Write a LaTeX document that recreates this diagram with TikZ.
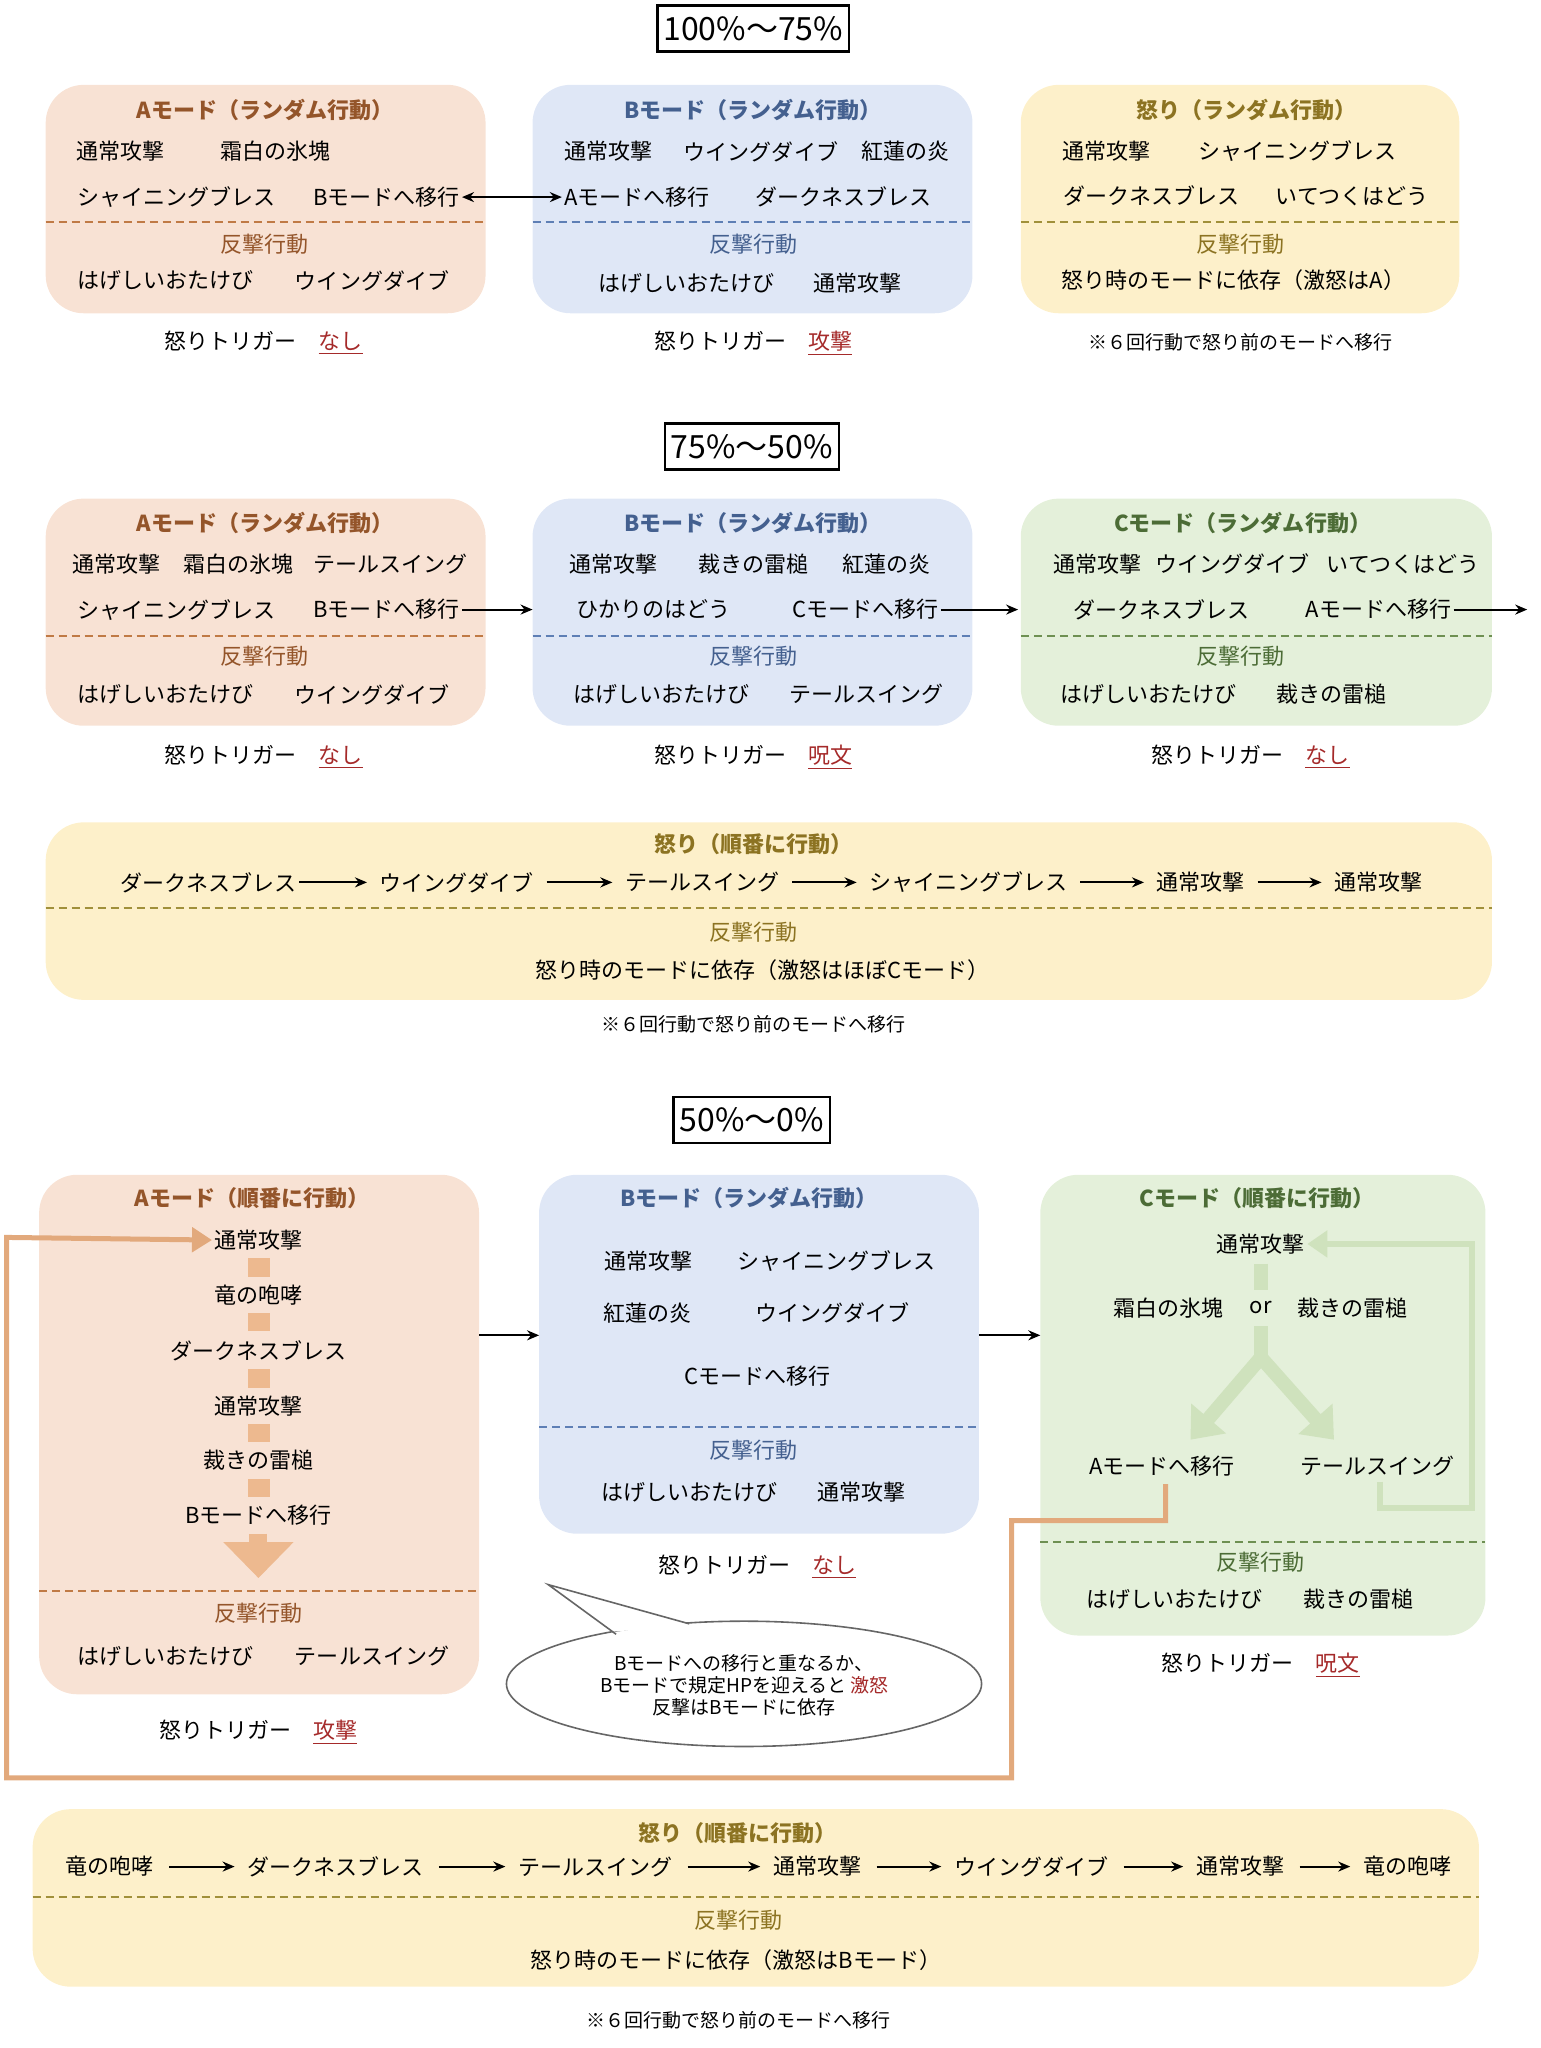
\documentclass[tikz,border=0pt]{standalone}
\usepackage{fontspec}
\setmainfont{Noto Sans CJK JP}
\usetikzlibrary{arrows.meta,shapes.geometric,calc}
\definecolor{afill}{HTML}{F8E2D4}\definecolor{atitle}{HTML}{94552A}\definecolor{adash}{HTML}{C07A45}
\definecolor{bfill}{HTML}{DFE7F6}\definecolor{btitle}{HTML}{44608F}\definecolor{bdash}{HTML}{5E7FB5}
\definecolor{yfill}{HTML}{FDF0CA}\definecolor{ytitle}{HTML}{8C7322}\definecolor{ydash}{HTML}{A0903A}
\definecolor{gfill}{HTML}{E4F0DA}\definecolor{gtitle}{HTML}{4C6C36}\definecolor{gdash}{HTML}{6E9052}
\definecolor{trig}{HTML}{A52A2A}\definecolor{gline}{HTML}{CFE2BD}\definecolor{oline}{HTML}{E2A97C}
\definecolor{osq}{HTML}{EDB98F}
\newcommand\rt[1]{\textcolor{trig}{\underline{#1}}}
\begin{document}
\begin{tikzpicture}[x=0.6525pt,y=-0.6525pt,
  t/.style={font=\fontsize{11}{13}\selectfont,inner sep=1pt},
  hd/.style={font=\fontsize{11}{13}\selectfont\bfseries,inner sep=1pt},
  ttl/.style={draw,line width=1.3pt,font=\fontsize{16}{18}\selectfont,inner sep=3pt,minimum height=23pt},
  sm/.style={font=\fontsize{9.5}{11}\selectfont,inner sep=1pt},
  bx/.style={rounded corners=19pt},
  dl/.style={dashed,line width=1pt,dash pattern=on 4pt off 2.5pt},
  ar/.style={-{Stealth[length=6pt,width=5pt]},line width=1pt},
]
\useasboundingbox (0,0) rectangle (1180,1569);
% ===== section 1
\node[ttl] (h1) at (577,22) {100\%～75\%};
\fill[afill,bx] (35,65) rectangle (372,240);
\draw[adash,dl] (35,170)--(372,170);
\node[hd,text=atitle] (a1t) at (203,84) {Aモード（ランダム行動）};
\node[t] (a1a) at (92,116) {通常攻撃};
\node[t] (a1b) at (211,116) {霜白の氷塊};
\node[t] (a1c) at (135,151) {シャイニングブレス};
\node[t] (a1d) at (296,151) {Bモードへ移行};
\node[t,text=atitle] (a1e) at (203,187) {反撃行動};
\node[t] (a1f) at (127,215) {はげしいおたけび};
\node[t] (a1g) at (285,215) {ウイングダイブ};
\node[t] (a1h) at (202,263) {怒りトリガー\quad\rt{なし}};
\fill[bfill,bx] (408,65) rectangle (745,240);
\draw[bdash,dl] (408,170)--(745,170);
\node[hd,text=btitle] (b1t) at (577,84) {Bモード（ランダム行動）};
\node[t] (b1a) at (466,116) {通常攻撃};
\node[t] (b1b) at (583,116) {ウイングダイブ};
\node[t] (b1c) at (694,116) {紅蓮の炎};
\node[t] (b1d) at (488,151) {Aモードへ移行};
\node[t] (b1e) at (646,151) {ダークネスブレス};
\node[t,text=btitle] (b1f) at (577,187) {反撃行動};
\node[t] (b1g) at (526,217) {はげしいおたけび};
\node[t] (b1h) at (657,217) {通常攻撃};
\node[t] (b1i) at (577,263) {怒りトリガー\quad\rt{攻撃}};
\draw[{Stealth[length=6pt,width=5pt]}-{Stealth[length=6pt,width=5pt]},line width=1pt] (a1d.east)--(b1d.west);
\fill[yfill,bx] (782,65) rectangle (1118,240);
\draw[ydash,dl] (782,170)--(1118,170);
\node[hd,text=ytitle] (y1t) at (955,84) {怒り（ランダム行動）};
\node[t] (y1a) at (848,116) {通常攻撃};
\node[t] (y1b) at (994,116) {シャイニングブレス};
\node[t] (y1c) at (882,150) {ダークネスブレス};
\node[t] (y1d) at (1036,150) {いてつくはどう};
\node[t,text=ytitle] (y1e) at (950,187) {反撃行動};
\node[t] (y1f) at (945,215) {怒り時のモードに依存（激怒はA）};
\node[sm] (y1g) at (950,262) {※６回行動で怒り前のモードへ移行};
% ===== section 2
\node[ttl] (h2) at (576,342) {75\%～50\%};
\fill[afill,bx] (35,382) rectangle (372,556);
\draw[adash,dl] (35,487)--(372,487);
\node[hd,text=atitle] (a2t) at (203,401) {Aモード（ランダム行動）};
\node[t] (a2a) at (89,432) {通常攻撃};
\node[t] (a2b) at (183,432) {霜白の氷塊};
\node[t] (a2c) at (299,432) {テールスイング};
\node[t] (a2d) at (135,467) {シャイニングブレス};
\node[t] (a2e) at (296,467) {Bモードへ移行};
\node[t,text=atitle] (a2f) at (203,503) {反撃行動};
\node[t] (a2g) at (127,532) {はげしいおたけび};
\node[t] (a2h) at (285,532) {ウイングダイブ};
\node[t] (a2i) at (202,580) {怒りトリガー\quad\rt{なし}};
\fill[bfill,bx] (408,382) rectangle (745,556);
\draw[bdash,dl] (408,487)--(745,487);
\node[hd,text=btitle] (b2t) at (577,401) {Bモード（ランダム行動）};
\node[t] (b2a) at (470,432) {通常攻撃};
\node[t] (b2b) at (577,432) {裁きの雷槌};
\node[t] (b2c) at (679,432) {紅蓮の炎};
\node[t] (b2d) at (501,467) {ひかりのはどう};
\node[t] (b2e) at (663,467) {Cモードへ移行};
\node[t,text=btitle] (b2f) at (577,503) {反撃行動};
\node[t] (b2g) at (507,532) {はげしいおたけび};
\node[t] (b2h) at (664,532) {テールスイング};
\node[t] (b2i) at (577,580) {怒りトリガー\quad\rt{呪文}};
\fill[gfill,bx] (782,382) rectangle (1143,556);
\draw[gdash,dl] (782,487)--(1143,487);
\node[hd,text=gtitle] (c2t) at (952,401) {Cモード（ランダム行動）};
\node[t] (c2a) at (841,432) {通常攻撃};
\node[t] (c2b) at (944,432) {ウイングダイブ};
\node[t] (c2c) at (1075,432) {いてつくはどう};
\node[t] (c2d) at (890,467) {ダークネスブレス};
\node[t] (c2e) at (1056,467) {Aモードへ移行};
\node[t,text=gtitle] (c2f) at (950,503) {反撃行動};
\node[t] (c2g) at (880,532) {はげしいおたけび};
\node[t] (c2h) at (1020,532) {裁きの雷槌};
\node[t] (c2i) at (958,580) {怒りトリガー\quad\rt{なし}};
\coordinate (c2out) at (1170,467);
\draw[ar] (a2e.east)--(408,467);
\draw[ar] (b2e.east)--(780,467);
\draw[ar] (c2e.east)--(c2out);
\fill[yfill,bx] (35,630) rectangle (1143,766);
\draw[ydash,dl] (35,696)--(1143,696);
\node[hd,text=ytitle] (y2t) at (577,647) {怒り（順番に行動）};
\node[t] (r1) at (160,676) {ダークネスブレス};
\node[t] (r2) at (350,676) {ウイングダイブ};
\node[t] (r3) at (538,676) {テールスイング};
\node[t] (r4) at (742,676) {シャイニングブレス};
\node[t] (r5) at (920,676) {通常攻撃};
\node[t] (r6) at (1056,676) {通常攻撃};
\draw[ar] (r1.east)--($(r2.west)+(-8,0)$);
\draw[ar] ($(r2.east)+(8,0)$)--($(r3.west)+(-8,0)$);
\draw[ar] ($(r3.east)+(8,0)$)--($(r4.west)+(-8,0)$);
\draw[ar] ($(r4.east)+(8,0)$)--($(r5.west)+(-8,0)$);
\draw[ar] ($(r5.east)+(8,0)$)--($(r6.west)+(-8,0)$);
\node[t,text=ytitle] (y2e) at (577,714) {反撃行動};
\node[t] (y2f) at (584,743) {怒り時のモードに依存（激怒はほぼCモード）};
\node[sm] (y2g) at (577,785) {※６回行動で怒り前のモードへ移行};
% ===== section 3
\node[ttl] (h3) at (576,858) {50\%～0\%};
\fill[afill,bx] (30,900) rectangle (367,1298);
\draw[adash,dl] (30,1219)--(367,1219);
\node[hd,text=atitle] (a3t) at (193,918) {Aモード（順番に行動）};
\node[t] (s1) at (198,950) {通常攻撃};
\node[t] (s2) at (198,992) {竜の咆哮};
\node[t] (s3) at (198,1035) {ダークネスブレス};
\node[t] (s4) at (198,1077) {通常攻撃};
\node[t] (s5) at (198,1119) {裁きの雷槌};
\node[t] (s6) at (198,1161) {Bモードへ移行};
\foreach \yy in {971,1013,1056,1098,1140} \fill[osq] (190,\yy-7) rectangle (207,\yy+7);
\draw[osq,line width=9pt,-{Triangle[length=18pt,width=34pt]}] (198,1175)--(198,1209);
\node[t,text=atitle] (a3e) at (198,1236) {反撃行動};
\node[t] (a3f) at (127,1269) {はげしいおたけび};
\node[t] (a3g) at (285,1269) {テールスイング};
\node[t] (a3h) at (198,1327) {怒りトリガー\quad\rt{攻撃}};
\fill[bfill,bx] (413,900) rectangle (750,1175);
\draw[bdash,dl] (413,1093)--(750,1093);
\node[hd,text=btitle] (b3t) at (574,918) {Bモード（ランダム行動）};
\node[t] (b3a) at (497,966) {通常攻撃};
\node[t] (b3b) at (641,966) {シャイニングブレス};
\node[t] (b3c) at (496,1006) {紅蓮の炎};
\node[t] (b3d) at (638,1006) {ウイングダイブ};
\node[t] (b3e) at (580,1054) {Cモードへ移行};
\node[t,text=btitle] (b3f) at (577,1111) {反撃行動};
\node[t] (b3g) at (528,1143) {はげしいおたけび};
\node[t] (b3h) at (660,1143) {通常攻撃};
\node[t] (b3i) at (580,1200) {怒りトリガー\quad\rt{なし}};
\fill[gfill,bx] (797,900) rectangle (1138,1253);
\draw[gdash,dl] (797,1181)--(1138,1181);
\node[hd,text=gtitle] (c3t) at (963,918) {Cモード（順番に行動）};
\node[t] (c3a) at (966,953) {通常攻撃};
\node[t] (c3b) at (895,1002) {霜白の氷塊};
\node[t] (c3or) at (966,1002) {or};
\node[t] (c3c) at (1036,1002) {裁きの雷槌};
\node[t] (c3d) at (890,1123) {Aモードへ移行};
\node[t] (c3e) at (1055,1123) {テールスイング};
\node[t,text=gtitle] (c3f) at (966,1197) {反撃行動};
\node[t] (c3g) at (900,1225) {はげしいおたけび};
\node[t] (c3h) at (1041,1225) {裁きの雷槌};
\node[t] (c3i) at (966,1276) {怒りトリガー\quad\rt{呪文}};
\coordinate (fork) at (966,1040);
\draw[gline,line width=7pt] (966,968)--(966,988);
\draw[gline,line width=7pt] (966,1016)--(fork);
\draw[gline,line width=7pt,-{Triangle[length=14pt,width=22pt]}] (fork)--(912,1103);
\draw[gline,line width=7pt,-{Triangle[length=14pt,width=22pt]}] (fork)--(1022,1103);
\draw[gline,line width=3pt,-{Triangle[length=10pt,width=13pt]}] (1057,1135)--(1057,1155)--(1128,1155)--(1128,953)--(c3a.east);
\draw[oline,line width=2.5pt,-{Triangle[length=10pt,width=12pt]}] (893,1137)--(893,1165)--(775,1165)--(775,1362)--(5,1362)--(5,948)--(s1.west);
\draw[ar] (367,1023)--(413,1023);
\draw[ar] (750,1023)--(797,1023);
% speech bubble
\draw[fill=white,draw=gray!80!black,line width=0.8pt] (570,1290) ellipse (182 and 48);
\fill[white] (470,1250)--(420,1214)--(530,1245)--cycle;
\draw[gray!80!black,line width=0.8pt] (472,1252)--(420,1214)--(528,1244);
\node[sm,align=center] (bub) at (570,1291) {Bモードへの移行と重なるか、\\Bモードで規定HPを迎えると\,\textcolor{trig}{激怒}\\反撃はBモードに依存};
% rage 3
\fill[yfill,bx] (25,1386) rectangle (1133,1522);
\draw[ydash,dl] (25,1453)--(1133,1453);
\node[hd,text=ytitle] (y3t) at (565,1404) {怒り（順番に行動）};
\node[t] (q1) at (84,1430) {竜の咆哮};
\node[t] (q2) at (257,1430) {ダークネスブレス};
\node[t] (q3) at (456,1430) {テールスイング};
\node[t] (q4) at (626,1430) {通常攻撃};
\node[t] (q5) at (790,1430) {ウイングダイブ};
\node[t] (q6) at (950,1430) {通常攻撃};
\node[t] (q7) at (1078,1430) {竜の咆哮};
\foreach \a/\b in {q1/q2,q2/q3,q3/q4,q4/q5,q5/q6,q6/q7}
  \draw[ar] ($(\a.east)+(10,0)$)--($(\b.west)+(-8,0)$);
\node[t,text=ytitle] (y3e) at (566,1471) {反撃行動};
\node[t] (y3f) at (564,1502) {怒り時のモードに依存（激怒はBモード）};
\node[sm] (y3g) at (566,1548) {※６回行動で怒り前のモードへ移行};
\end{tikzpicture}
\end{document}
